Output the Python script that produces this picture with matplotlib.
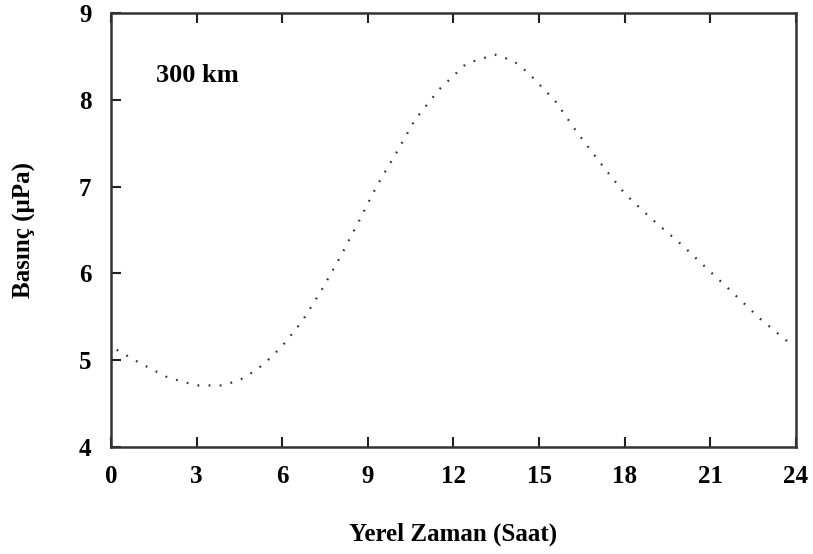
import numpy as np
import matplotlib.pyplot as plt

# Yerel saat ve basinc degerleri (300 km)
saat = [0.2, 1.0, 2.0, 3.0, 3.9, 4.5, 5.1, 5.6, 6.04, 6.7, 7.4, 8.05, 8.7, 9.3,
        10.0, 10.65, 11.5, 12.46, 13.45, 14.1, 14.62, 15.56, 16.32, 17.13, 18.0,
        18.94, 20.0, 21.0, 21.75, 22.74, 23.8]
basinc = [5.12, 4.97, 4.80, 4.71, 4.71, 4.77, 4.89, 5.03, 5.18, 5.45, 5.82, 6.20,
          6.61, 7.00, 7.39, 7.77, 8.12, 8.42, 8.52, 8.45, 8.31, 7.99, 7.63, 7.28,
          6.92, 6.63, 6.33, 6.02, 5.79, 5.48, 5.19]
x_ticks = [0, 3, 6, 9, 12, 15, 18, 21, 24]
y_ticks = [4, 5, 6, 7, 8, 9]

plt.rcParams['font.family'] = ['Liberation Serif', 'DejaVu Serif']
plt.rcParams['font.weight'] = 'bold'

fig = plt.figure(figsize=(8.13, 5.54), dpi=100)
ax = fig.add_axes([0.1365, 0.193, 0.8425, 0.7835])

ax.plot(saat, basinc, color='#333333', lw=1.6, linestyle=(0, (0.8, 4.2)))

ax.set_xlim(0, 24)
ax.set_ylim(4, 9)
ax.set_xticks(x_ticks)
ax.set_yticks(y_ticks)
ax.tick_params(direction='in', length=7, width=1.5, color='#222222',
               labelsize=18, top=True, right=False)
ax.tick_params(axis='x', pad=13)
ax.tick_params(axis='y', pad=14)
for lab in ax.get_xticklabels() + ax.get_yticklabels():
    lab.set_fontweight('bold')
for sp in ax.spines.values():
    sp.set_linewidth(1.8)
    sp.set_color('#333333')

ax.set_xlabel('Yerel Zaman (Saat)', fontsize=18, fontweight='bold', labelpad=25)
ax.set_ylabel('Basınç (μPa)', fontsize=18, fontweight='bold', labelpad=31)
ax.text(0.066, 0.857, '300 km', transform=ax.transAxes, fontsize=19,
        fontweight='bold', va='center')

fig.savefig('out.png', dpi=100)
